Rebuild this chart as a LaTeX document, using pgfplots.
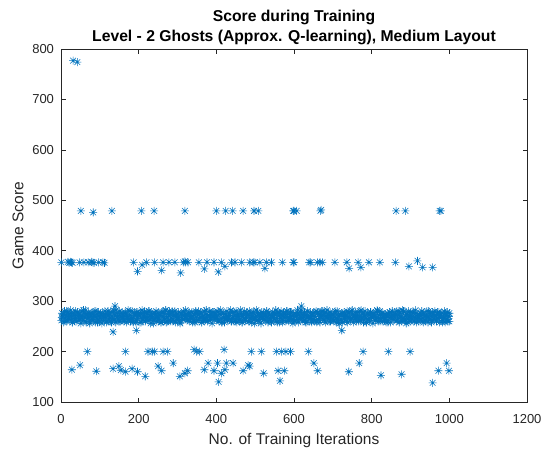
\documentclass[border=0pt]{standalone}
\usepackage{pgfplots}
\pgfplotsset{compat=1.18}
\usepackage{fontspec}
\setmainfont{Liberation Sans}
\definecolor{mblue}{RGB}{0,114,189}
\definecolor{mgray}{RGB}{38,38,38}
\pgfdeclareplotmark{mlstar}{%
 \pgfpathmoveto{\pgfqpoint{-\pgfplotmarksize}{0pt}}\pgfpathlineto{\pgfqpoint{\pgfplotmarksize}{0pt}}%
 \pgfpathmoveto{\pgfqpoint{0pt}{-\pgfplotmarksize}}\pgfpathlineto{\pgfqpoint{0pt}{\pgfplotmarksize}}%
 \pgfpathmoveto{\pgfqpoint{-0.72\pgfplotmarksize}{-0.72\pgfplotmarksize}}\pgfpathlineto{\pgfqpoint{0.72\pgfplotmarksize}{0.72\pgfplotmarksize}}%
 \pgfpathmoveto{\pgfqpoint{-0.72\pgfplotmarksize}{0.72\pgfplotmarksize}}\pgfpathlineto{\pgfqpoint{0.72\pgfplotmarksize}{-0.72\pgfplotmarksize}}%
 \pgfusepathqstroke}
\begin{document}
\begin{tikzpicture}
\useasboundingbox (-61pt,-48pt) rectangle (482pt,402pt);
\begin{axis}[
 scale only axis, width=466pt, height=353pt,
 at={(0,0)}, anchor=south west,
 xmin=0, xmax=1200, ymin=100, ymax=800,
 xtick={0,200,...,1200}, ytick={100,200,...,800},
 tick align=inside, xtick pos=both, ytick pos=both,
 major tick length=4.5pt,
 axis line style={mgray, line width=0.5pt},
 tick style={mgray, line width=0.5pt},
 ticklabel style={font=\fontsize{13}{13}\selectfont, text=mgray},
 xticklabel style={yshift=-9pt},
 yticklabel style={xshift=-3.5pt},
 /pgf/number format/assume math mode=true,
 /pgf/number format/1000 sep={},
 title={Score during Training\\Level - 2 Ghosts (Approx. Q-learning), Medium Layout},
 title style={font=\bfseries\fontsize{15.7}{20.5}\selectfont, align=center, at={(0.5,1)}, anchor=south, yshift=-5.5pt},
 xlabel={No. of Training Iterations}, ylabel={Game Score},
 label style={font=\fontsize{15.5}{16}\selectfont, text=mgray},
 xlabel style={at={(axis description cs:0.5,-0.11)}, anchor=center},
 ylabel style={at={(axis description cs:-0.092,0.5)}, anchor=center},
 clip=false,
]
\addplot[only marks, mark=mlstar, mark size=4pt, mblue, line width=0.55pt] coordinates {
(1,262)(3,276)(5,270)(7,258)(9,280)(11,266)(13,272)(15,260)(17,278)(19,268)
(21,274)(23,264)(25,282)(27,270)(29,258)(31,276)(33,266)(35,262)(37,280)(39,272)
(41,260)(43,278)(45,268)(47,274)(49,264)(51,256)(53,280)(55,270)(57,262)(59,276)
(61,268)(63,282)(65,258)(67,272)(69,266)(71,278)(73,260)(75,274)(77,270)(79,264)
(81,276)(83,262)(85,270)(87,280)(89,258)(91,268)(93,274)(95,264)(97,278)(99,260)
(101,266)(103,272)(105,256)(107,276)(109,270)(111,262)(113,280)(115,268)(117,258)(119,274)
(121,280)(123,264)(125,274)(127,260)(129,278)(131,270)(133,266)(135,282)(137,262)(139,272)
(141,258)(143,276)(145,268)(147,264)(149,272)(151,280)(153,260)(155,270)(157,276)(159,266)
(161,270)(163,262)(165,278)(167,274)(169,258)(171,266)(173,282)(175,264)(177,272)(179,260)
(181,264)(183,280)(185,260)(187,268)(189,276)(191,272)(193,258)(195,278)(197,266)(199,274)
(201,272)(203,258)(205,276)(207,266)(209,282)(211,262)(213,270)(215,278)(217,260)(219,268)
(221,278)(223,268)(225,262)(227,280)(229,270)(231,256)(233,274)(235,266)(237,276)(239,262)
(241,266)(243,274)(245,280)(247,260)(249,268)(251,276)(253,262)(255,272)(257,258)(259,278)
(261,260)(263,270)(265,276)(267,264)(269,282)(271,258)(273,268)(275,274)(277,262)(279,280)
(281,274)(283,260)(285,266)(287,278)(289,262)(291,272)(293,280)(295,258)(297,270)(299,264)
(301,268)(303,278)(305,262)(307,256)(309,274)(311,266)(313,272)(315,280)(317,264)(319,270)
(321,282)(323,266)(325,272)(327,262)(329,276)(331,260)(333,270)(335,268)(337,278)(339,258)
(341,264)(343,272)(345,258)(347,280)(349,268)(351,276)(353,262)(355,274)(357,266)(359,278)
(361,276)(363,258)(365,270)(367,264)(369,280)(371,262)(373,274)(375,268)(377,260)(379,272)
(381,262)(383,280)(385,268)(387,274)(389,256)(391,270)(393,278)(395,264)(397,272)(399,266)
(401,270)(403,264)(405,278)(407,260)(409,274)(411,282)(413,266)(415,258)(417,276)(419,268)
(421,258)(423,274)(425,266)(427,280)(429,262)(431,270)(433,276)(435,264)(437,282)(439,260)
(441,278)(443,268)(445,260)(447,272)(449,264)(451,280)(453,258)(455,274)(457,270)(459,262)
(461,264)(463,276)(465,272)(467,258)(469,270)(471,266)(473,280)(475,262)(477,268)(479,276)
(481,272)(483,260)(485,280)(487,266)(489,276)(491,258)(493,270)(495,278)(497,264)(499,268)
(501,266)(503,282)(505,262)(507,274)(509,260)(511,272)(513,268)(515,256)(517,278)(519,270)
(521,276)(523,264)(525,270)(527,262)(529,280)(531,268)(533,258)(535,276)(537,272)(539,266)
(541,260)(543,272)(545,278)(547,268)(549,264)(551,274)(553,282)(555,266)(557,258)(559,276)
(561,270)(563,258)(565,266)(567,280)(569,272)(571,262)(573,276)(575,268)(577,274)(579,260)
(581,280)(583,268)(585,274)(587,260)(589,266)(591,278)(593,264)(595,270)(597,256)(599,272)
(601,262)(603,276)(605,270)(607,264)(609,282)(611,258)(613,272)(615,266)(617,278)(619,268)
(621,274)(623,260)(625,268)(627,278)(629,262)(631,272)(633,258)(635,280)(637,266)(639,270)
(641,266)(643,278)(645,260)(647,272)(649,276)(651,264)(653,270)(655,262)(657,280)(659,258)
(661,278)(663,264)(665,274)(667,258)(669,270)(671,280)(673,266)(675,272)(677,262)(679,276)
(681,258)(683,270)(685,282)(687,266)(689,274)(691,260)(693,278)(695,268)(697,272)(699,264)
(701,272)(703,262)(705,268)(707,276)(709,258)(711,280)(713,264)(715,270)(717,256)(719,274)
(721,264)(723,276)(725,258)(727,270)(729,278)(731,266)(733,272)(735,260)(737,280)(739,268)
(741,276)(743,268)(745,262)(747,280)(749,266)(751,274)(753,258)(755,270)(757,264)(759,278)
(761,260)(763,272)(765,278)(767,264)(769,270)(771,262)(773,282)(775,266)(777,274)(779,258)
(781,270)(783,280)(785,266)(787,258)(789,276)(791,264)(793,272)(795,260)(797,278)(799,268)
(801,268)(803,256)(805,274)(807,270)(809,262)(811,278)(813,266)(815,280)(817,260)(819,272)
(821,280)(823,266)(825,272)(827,260)(829,276)(831,268)(833,262)(835,274)(837,258)(839,270)
(841,262)(843,274)(845,268)(847,278)(849,258)(851,272)(853,280)(855,264)(857,270)(859,276)
(861,274)(863,260)(865,280)(867,266)(869,272)(871,258)(873,276)(875,268)(877,262)(879,282)
(881,266)(883,278)(885,262)(887,270)(889,256)(891,274)(893,264)(895,280)(897,268)(899,260)
(901,278)(903,264)(905,270)(907,276)(909,260)(911,268)(913,282)(915,258)(917,272)(919,266)
(921,260)(923,272)(925,276)(927,264)(929,280)(931,266)(933,258)(935,274)(937,270)(939,262)
(941,272)(943,268)(945,258)(947,280)(949,264)(951,276)(953,270)(955,262)(957,278)(959,266)
(961,264)(963,280)(965,270)(967,260)(969,274)(971,266)(973,278)(975,258)(977,272)(979,268)
(981,276)(983,262)(985,268)(987,280)(989,258)(991,272)(993,264)(995,278)(997,260)(999,270)
(1000,276)(1000,260)
(2,268)(6,274)(10,260)(14,280)(18,264)(22,270)(26,276)(30,258)(34,272)(38,266)
(42,278)(46,262)(50,270)(54,266)(58,282)(62,260)(66,274)(70,268)(74,256)(78,276)
(82,264)(86,272)(90,280)(94,258)(98,270)(102,276)(106,262)(110,268)(114,274)(118,260)
(122,272)(126,266)(130,258)(134,278)(138,264)(142,282)(146,270)(150,260)(154,276)(158,268)
(162,260)(166,276)(170,270)(174,264)(178,280)(182,266)(186,258)(190,274)(194,262)(198,278)
(202,270)(206,258)(210,276)(214,268)(218,262)(222,274)(226,280)(230,264)(234,270)(238,256)
(242,276)(246,268)(250,264)(254,272)(258,258)(262,278)(266,266)(270,282)(274,260)(278,270)
(282,262)(286,280)(290,272)(294,260)(298,274)(302,268)(306,258)(310,276)(314,264)(318,272)
(322,274)(326,264)(330,278)(334,266)(338,270)(342,260)(346,276)(350,262)(354,280)(358,268)
(362,258)(366,270)(370,266)(374,282)(378,262)(382,272)(386,264)(390,278)(394,268)(398,274)
(402,280)(406,262)(410,274)(414,258)(418,276)(422,264)(426,270)(430,266)(434,272)(438,260)
(442,266)(446,278)(450,260)(454,270)(458,264)(462,282)(466,258)(470,274)(474,262)(478,276)
(482,272)(486,260)(490,268)(494,276)(498,256)(502,270)(506,278)(510,264)(514,274)(518,266)
(522,264)(526,274)(530,280)(534,262)(538,272)(542,258)(546,268)(550,276)(554,260)(558,278)
(562,276)(566,266)(570,258)(574,274)(578,268)(582,280)(586,262)(590,270)(594,278)(598,264)
(602,260)(606,272)(610,276)(614,264)(618,282)(622,266)(626,274)(630,258)(634,268)(638,270)
(642,270)(646,258)(650,264)(654,278)(658,260)(662,276)(666,266)(670,272)(674,280)(678,262)
(682,278)(686,268)(690,272)(694,260)(698,274)(702,262)(706,280)(710,266)(714,258)(718,274)
(722,262)(726,276)(730,266)(734,270)(738,258)(742,278)(746,264)(750,282)(754,272)(758,268)
(762,268)(766,260)(770,280)(774,264)(778,276)(782,270)(786,258)(790,274)(794,266)(798,278)
(802,274)(806,270)(810,262)(814,282)(818,266)(822,260)(826,276)(830,268)(834,264)(838,272)
(842,258)(846,278)(850,268)(854,272)(858,264)(862,274)(866,262)(870,280)(874,270)(878,260)
(882,280)(886,264)(890,274)(894,258)(898,270)(902,266)(906,278)(910,262)(914,276)(918,268)
(922,266)(926,272)(930,260)(934,276)(938,262)(942,280)(946,270)(950,264)(954,258)(958,274)
(962,272)(966,262)(970,278)(974,268)(978,274)(982,258)(986,266)(990,276)(994,264)(998,270)
};
\addplot[only marks, mark=mlstar, mark size=4pt, mblue, line width=0.55pt] coordinates {
(31,777)(42,774)
(51,479)(83,476)(131,479)(207,479)(240,479)(319,479)(400,479)(424,479)(442,479)(469,479)
(497,479)(508,479)(598,479)(600,479)(607,479)(668,479)(670,481)(863,479)(887,479)(975,479)(978,479)
(1,377)(18,378)(21,376)(24,378)(27,377)(30,376)(48,377)(59,377)(70,377)(78,378)(80,377)(85,376)
(97,377)(108,377)(112,376)(187,377)(197,359)(209,372)(220,377)(241,377)(259,361)(263,377)
(278,377)(293,377)(308,356)(315,377)(319,379)(321,377)(327,377)(355,377)(369,364)(376,377)
(394,377)(405,358)(413,377)(422,369)(439,377)(448,377)(465,377)(486,377)(495,377)(499,377)
(512,377)(525,365)(529,377)(542,377)(570,377)(598,377)(600,377)(639,377)(643,377)(660,377)
(667,377)(673,377)(705,377)(736,377)(742,365)(765,377)(772,367)(793,377)(821,377)(861,377)
(896,369)(918,380)(931,367)(957,367)
(28,164)(49,173)(68,200)(91,161)(134,239)(134,166)(139,290)(149,171)(154,163)(166,200)
(166,160)(183,166)(194,242)(197,160)(217,151)(224,200)(235,200)(241,200)(250,171)(259,162)
(263,200)(274,200)(289,177)(306,151)(319,157)(326,162)(343,204)(349,200)(357,200)(369,164)
(379,177)(394,162)(403,177)(406,140)(413,157)(420,204)(422,164)(426,177)(443,177)(469,162)
(482,173)(486,171)(490,200)(516,200)(522,157)(555,200)(559,162)(564,142)(568,200)(575,162)
(579,200)(591,200)(619,290)(637,200)(651,177)(661,162)(723,242)(741,160)(768,177)(778,200)
(824,153)(843,200)(877,155)(899,200)(957,138)(972,162)(993,177)(999,162)
};
\end{axis}
\end{tikzpicture}
\end{document}
